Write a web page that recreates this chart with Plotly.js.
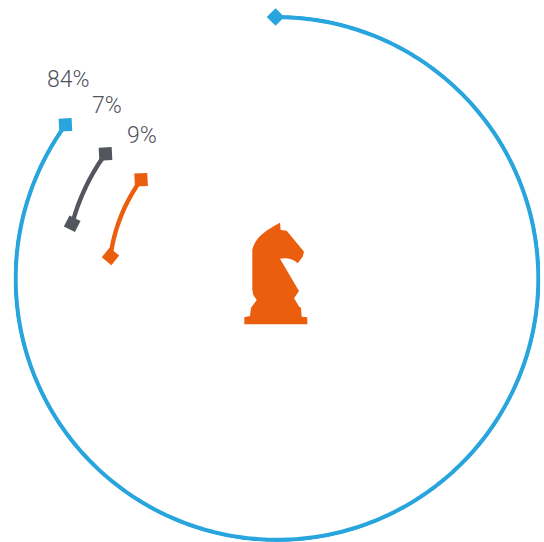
<!DOCTYPE html>
<html>
<head>
<meta charset="utf-8">
<script src="https://cdn.plot.ly/plotly-3.0.1.min.js"></script>
<style>html,body{margin:0;padding:0;background:#fff}#chart{width:544px;height:542px}</style>
</head>
<body>
<div id="chart"></div>
<script>
// Share of each segment, outermost ring first
const labels = ['84%', '7%', '9%'];
const values = [84, 7, 9];
const ringRadii = [261.5, 212, 168];
const colors = ['#29a5de', '#54565e', '#eb5e0d'];

// Every arc finishes on the same bearing and runs back in proportion to its value
const endBearing = 306;
const degreesPerPoint = 3.705;
const spanOffset = 4.9;
const startTilt = [0, -18, -6];

const traces = [];
values.forEach((v, i) => {
  const span = degreesPerPoint * v - spanOffset;
  const start = endBearing - span;
  const steps = Math.max(12, Math.round(span));
  const theta = Array.from({length: steps + 1}, (_, k) => start + span * k / steps);
  traces.push({
    type: 'scatterpolar', mode: 'lines',
    r: theta.map(() => ringRadii[i]), theta,
    line: {color: colors[i], width: 4.4, shape: 'linear'},
    hoverinfo: 'skip', cliponaxis: false
  });
  traces.push({
    type: 'scatterpolar', mode: 'markers',
    r: [ringRadii[i], ringRadii[i]], theta: [start, endBearing],
    marker: {
      color: colors[i], opacity: 1, line: {width: 0},
      symbol: ['diamond', 'square'], size: [13.5, 13], angle: [startTilt[i], -3]
    },
    hoverinfo: 'skip', cliponaxis: false
  });
});

const px = x => x / 544;
const py = y => 1 - y / 542;
const labelX = [68.5, 107, 141.5];
const labelY = [79, 105, 136];

const annotations = labels.map((t, i) => ({
  text: t, xref: 'paper', yref: 'paper', x: px(labelX[i]), y: py(labelY[i]),
  xanchor: 'center', yanchor: 'middle', showarrow: false,
  font: {family: 'Roboto, sans-serif', size: 23, weight: 300, color: '#505259'}
}));

// Knight emblem in the middle of the rings, in page pixels
const knight = [
  ['M', 280, 222.7], ['L', 280.7, 230], ['L', 286.7, 230.7], ['L', 304, 251.7],
  ['L', 302.7, 256.7], ['L', 297.7, 263.3], ['Q', 291, 257, 280, 258.7],
  ['L', 299, 291], ['L', 294, 298.3], ['L', 299.3, 306.7], ['L', 301, 307.7],
  ['L', 301.7, 316.7], ['L', 307.3, 317.3], ['L', 307.3, 324.3], ['L', 244.3, 324.3],
  ['L', 244.3, 317.3], ['L', 250, 316], ['L', 251, 307.7], ['L', 256.7, 300],
  ['L', 253.3, 295], ['L', 252.3, 290], ['L', 252.3, 250],
  ['C', 255, 238, 263, 232, 280, 222.7]
];
const knightPath = knight.map(([c, ...n]) =>
  c + n.map((v, k) => (k % 2 ? py(v) : px(v)).toFixed(5)).join(' ')
).join(' ') + ' Z';

Plotly.newPlot('chart', traces, {
  width: 544, height: 542,
  margin: {l: 0, r: 0, t: 0, b: 0},
  paper_bgcolor: '#fff',
  showlegend: false,
  polar: {
    domain: {x: [13.5 / 544, 540.5 / 544], y: [0, 527 / 542]},
    bgcolor: 'rgba(0,0,0,0)',
    radialaxis: {range: [0, 263.5], visible: false},
    angularaxis: {direction: 'clockwise', rotation: 90, visible: false}
  },
  annotations,
  shapes: [{type: 'path', xref: 'paper', yref: 'paper', path: knightPath, fillcolor: colors[2], line: {width: 0}}]
}, {displayModeBar: false, staticPlot: true});
</script>
</body>
</html>
